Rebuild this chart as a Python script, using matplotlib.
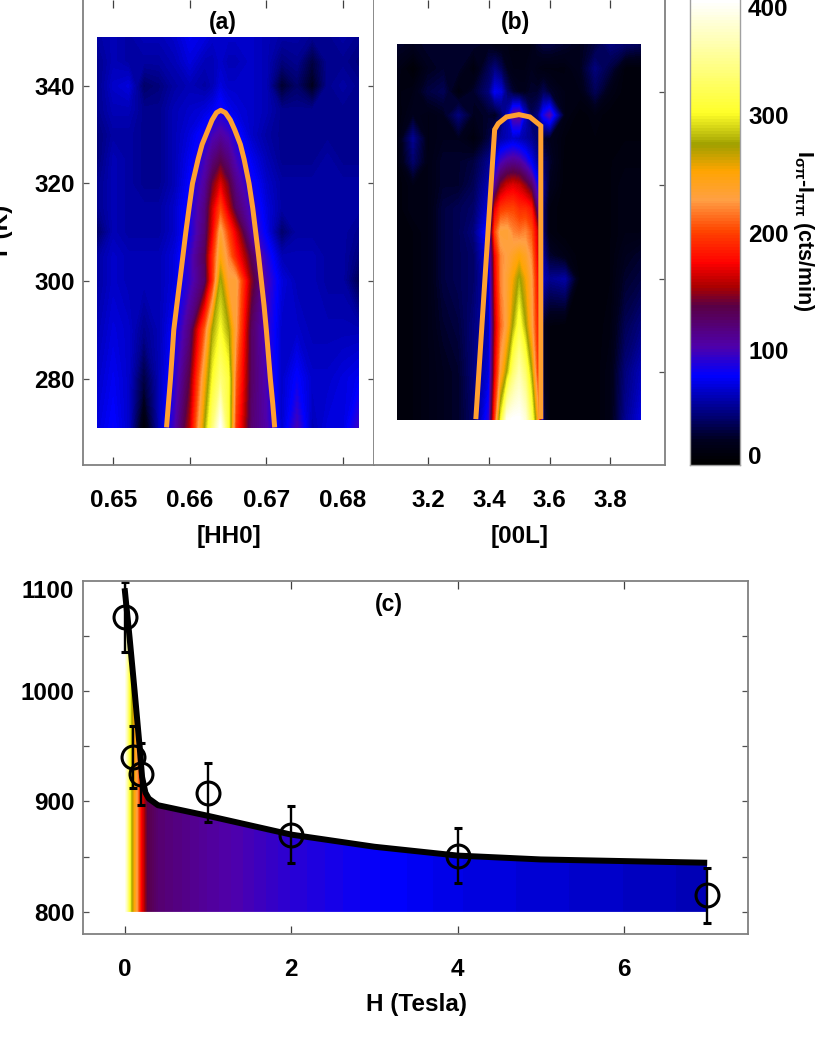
import numpy as np
import matplotlib
matplotlib.use("Agg")
import matplotlib.pyplot as plt
from matplotlib.colors import LinearSegmentedColormap
from matplotlib.patches import Polygon

W, H_PX = 830, 1038

# temperature rows shared by both maps
temps = [270, 280, 290, 300, 305, 310, 315, 320, 325, 330, 335, 340, 345, 350]

hh0 = [.648, .650, .652, .654, .656, .658, .660, .662, .663, .664, .665, .666,
       .668, .670, .672, .674, .676, .678, .680, .682]
map_a = [
    [70, 80, 65, 5, 60, 100, 160, 283, 345, 410, 320, 200, 125, 105, 65, 100, 60, 70, 70, 95],
    [65, 75, 65, 30, 60, 90, 140, 255, 310, 345, 320, 215, 130, 100, 65, 80, 65, 65, 70, 75],
    [60, 70, 65, 50, 60, 80, 120, 215, 283, 310, 285, 235, 130, 95, 65, 65, 60, 60, 60, 60],
    [55, 65, 60, 60, 60, 70, 95, 130, 195, 285, 240, 240, 150, 100, 70, 60, 60, 55, 55, 35],
    [55, 65, 60, 60, 60, 70, 95, 135, 195, 255, 225, 190, 135, 90, 60, 60, 60, 55, 55, 45],
    [40, 60, 55, 55, 55, 65, 85, 125, 175, 240, 205, 170, 105, 75, 40, 55, 55, 55, 55, 50],
    [50, 60, 55, 55, 55, 65, 85, 120, 165, 205, 165, 130, 95, 70, 55, 55, 55, 55, 55, 55],
    [50, 60, 55, 50, 50, 60, 80, 110, 145, 170, 145, 115, 85, 65, 55, 55, 55, 55, 55, 55],
    [45, 60, 55, 50, 50, 60, 75, 100, 120, 135, 120, 100, 75, 60, 50, 50, 50, 55, 50, 50],
    [45, 55, 55, 50, 50, 60, 70, 85, 100, 108, 100, 85, 65, 55, 50, 50, 50, 50, 50, 50],
    [50, 60, 60, 50, 50, 60, 65, 70, 75, 85, 75, 70, 65, 60, 50, 50, 50, 50, 50, 50],
    [50, 65, 70, 40, 45, 55, 60, 55, 60, 70, 65, 65, 65, 60, 25, 40, 20, 50, 55, 50],
    [50, 60, 55, 55, 55, 60, 70, 60, 60, 65, 60, 60, 65, 60, 45, 50, 30, 50, 50, 45],
    [55, 60, 55, 60, 60, 65, 75, 70, 65, 65, 65, 65, 65, 60, 55, 55, 50, 50, 55, 50],
]

l00 = [3.10, 3.15, 3.20, 3.25, 3.30, 3.35, 3.40, 3.42, 3.44, 3.46, 3.48, 3.50,
       3.52, 3.54, 3.56, 3.58, 3.60, 3.65, 3.70, 3.75, 3.80, 3.85, 3.90]
map_b = [
    [10, 10, 15, 20, 25, 40, 90, 200, 310, 400, 410, 410, 390, 330, 250, 30, 10, 8, 8, 8, 15, 50, 70],
    [10, 10, 15, 20, 25, 45, 70, 170, 240, 283, 340, 370, 340, 283, 200, 20, 10, 8, 8, 8, 15, 45, 60],
    [10, 10, 15, 25, 30, 45, 60, 160, 215, 240, 283, 320, 283, 240, 190, 20, 10, 8, 8, 8, 12, 35, 45],
    [8, 10, 15, 30, 35, 40, 65, 170, 225, 240, 260, 285, 260, 235, 180, 60, 50, 55, 8, 8, 10, 25, 30],
    [8, 10, 15, 30, 35, 40, 75, 175, 225, 235, 245, 255, 245, 225, 170, 50, 25, 15, 8, 8, 10, 20, 25],
    [8, 10, 15, 30, 35, 45, 90, 205, 240, 240, 225, 220, 225, 210, 165, 40, 12, 8, 8, 8, 10, 15, 15],
    [8, 15, 15, 30, 35, 40, 70, 170, 200, 205, 205, 195, 195, 185, 120, 40, 12, 8, 8, 8, 10, 15, 15],
    [8, 15, 15, 25, 25, 35, 60, 110, 150, 165, 170, 165, 150, 130, 85, 50, 20, 8, 8, 8, 10, 15, 15],
    [10, 40, 15, 25, 25, 30, 50, 70, 100, 110, 115, 110, 95, 75, 55, 40, 25, 8, 8, 10, 10, 12, 12],
    [10, 50, 15, 20, 20, 10, 30, 50, 55, 60, 65, 60, 55, 50, 40, 25, 20, 10, 8, 10, 10, 10, 10],
    [10, 20, 15, 20, 45, 20, 25, 20, 35, 60, 110, 115, 65, 35, 45, 85, 105, 15, 8, 12, 8, 8, 8],
    [12, 15, 30, 35, 10, 25, 45, 75, 70, 40, 25, 20, 20, 25, 25, 35, 25, 15, 15, 35, 15, 8, 8],
    [15, 5, 20, 25, 25, 10, 35, 45, 35, 20, 15, 15, 15, 20, 15, 12, 12, 12, 20, 45, 30, 8, 8],
    [25, 20, 25, 25, 25, 25, 20, 15, 15, 15, 12, 12, 15, 15, 25, 30, 30, 25, 20, 30, 45, 40, 35],
]

# orange outlines
outline_a_t = [270, 275, 280, 285, 290, 295, 300, 305, 310, 315, 320, 325, 328, 331, 333, 334.5, 335,
               334.5, 333, 331, 328, 325, 320, 315, 310, 305, 300, 295, 290, 285, 280, 275, 270]
outline_a_x = [.65696, .65722, .65748, .65770, .65791, .65830, .65870, .65909, .65948, .65991, .66035,
               .66109, .66161, .66239, .66291, .66348, .66404, .66465, .66530, .66587, .66661, .66709,
               .66774, .66822, .66861, .66900, .66935, .66970, .67000, .67026, .67052, .67083, .67109]
outline_b_t = [270, 331.9, 333.2, 334.6, 335.1, 334.6, 332.7, 270]
outline_b_x = [3.357, 3.419, 3.431, 3.458, 3.499, 3.535, 3.571, 3.571]

# panel c
field_fit = [0, .06, .12, .18, .21, .25, .29, .4, 1, 2, 3, 4, 5, 6, 7]
temp_fit = [1093, 1048, 1000, 950, 922, 908, 902.6, 896.6, 887, 870, 859, 851, 847.5, 846, 844.5]
field_pts = [0, .1, .2, 1, 2, 4, 7]
temp_pts = [1067, 940, 925, 908, 870, 851, 815]
err_pts = [32, 28, 28, 27, 26, 25, 24.6]
field_col = [0, .03, .06, .09, .15, .2, .27, .4, 1, 2, 3, 4, 7]
inten_col = [410, 370, 320, 280, 235, 180, 140, 125, 110, 92, 80, 72, 60]

cbar_ticks = [0, 100, 200, 300, 400]
cbar_tick_y = [457, 352.5, 235, 118, 10]

cmap_stops = [
    (0.0, "#000000"), (0.05, "#00001e"), (0.19, "#0000ff"), (0.254, "#5000aa"),
    (0.34, "#5a0046"), (0.383, "#aa0000"), (0.434, "#ff0000"), (0.505, "#ff4600"),
    (0.57, "#ffa046"), (0.634, "#ffa500"), (0.69, "#a0a000"), (0.757, "#ffff28"),
    (0.856, "#ffff82"), (1.0, "#ffffff"),
]
heat = LinearSegmentedColormap.from_list("heat", cmap_stops, N=160)
levels = np.linspace(0, 410, 161)

plt.rcParams["font.family"] = ["Liberation Sans", "DejaVu Sans"]
plt.rcParams["font.weight"] = "bold"
plt.rcParams["mathtext.fontset"] = "custom"
plt.rcParams["mathtext.rm"] = "Liberation Sans:bold"
plt.rcParams["mathtext.it"] = "Liberation Sans:bold"
plt.rcParams["mathtext.bf"] = "Liberation Sans:bold"
plt.rcParams["mathtext.default"] = "rm"

GRAY = "#808080"
FS = 17.5
ORANGE = "#ffa030"

fig = plt.figure(figsize=(W / 100, H_PX / 100), dpi=100)


def px_axes(left, top, right, bottom):
    return fig.add_axes([left / W, 1 - bottom / H_PX, (right - left) / W, (bottom - top) / H_PX])


def style(ax, pad_x=17, left_labels=True):
    for s in ax.spines.values():
        s.set_color(GRAY)
        s.set_linewidth(1.3)
    ax.tick_params(axis="x", direction="in", length=6, width=0.9, color="#404040",
                   top=True, bottom=True, pad=pad_x, labelsize=FS)
    ax.tick_params(axis="y", direction="in", length=4.5, width=0.9, color="#505050",
                   left=left_labels, right=True, labelleft=left_labels, pad=6, labelsize=FS)


ax_a = px_axes(83, 0, 373.5, 465)
ax_a.contourf(hh0, temps, np.array(map_a), levels=levels, cmap=heat, extend="both", antialiased=False)
ax_a.plot(outline_a_x, outline_a_t, color=ORANGE, lw=3.6, solid_capstyle="butt")
ax_a.set_xlim(.64605, .6840)
ax_a.set_ylim(262.3, 357.6)
ax_a.set_xticks([.65, .66, .67, .68], ["0.65", "0.66", "0.67", "0.68"])
ax_a.set_yticks([280, 300, 320, 340])
style(ax_a)
ax_a.spines["top"].set_visible(False)

ax_b = px_axes(373.5, 0, 665, 465)
ax_b.contourf(l00, temps, np.array(map_b), levels=levels, cmap=heat, extend="both", antialiased=False)
ax_b.plot(outline_b_x, outline_b_t, color=ORANGE, lw=3.6, solid_capstyle="butt", solid_joinstyle="miter")
ax_b.set_xlim(3.020, 3.980)
ax_b.set_ylim(260.2, 359.6)
ax_b.set_xticks([3.2, 3.4, 3.6, 3.8], ["3.2", "3.4", "3.6", "3.8"])
ax_b.set_yticks([280, 300, 320, 340])
style(ax_b, left_labels=False)
ax_b.spines["top"].set_visible(False)
ax_b.spines["left"].set_visible(False)

ax_bar = px_axes(689.5, 0, 740, 465)
ax_bar.imshow(np.linspace(0, 410, 160).reshape(-1, 1), origin="lower", aspect="auto", cmap=heat,
              vmin=0, vmax=410, extent=[0, 1, 0, 410], interpolation="nearest")
ax_bar.set_xticks([])
ax_bar.set_yticks([])
for s in ax_bar.spines.values():
    s.set_color("#a0a0a0")
    s.set_linewidth(1)
ax_bar.spines["top"].set_visible(False)

ax_c = px_axes(83, 580.5, 748, 934)
grad = ax_c.contourf(field_col, [800, 1100], np.array([inten_col, inten_col]), levels=levels,
                     cmap=heat, extend="both", antialiased=False)
clip = Polygon(list(zip(field_fit, temp_fit)) + [(7, 800), (0, 800)], closed=True,
               transform=ax_c.transData, fc="none", ec="none")
ax_c.add_patch(clip)
grad.set_clip_path(clip)
ax_c.plot(field_fit, temp_fit, color="black", lw=4.3, solid_capstyle="butt")
ax_c.errorbar(field_pts, temp_pts, yerr=err_pts, fmt="o", ms=16.5, mfc="none", mec="black",
              mew=2.2, ecolor="black", elinewidth=1.7, capsize=2.6, capthick=2.2, clip_on=False)
ax_c.set_xlim(-.5, 7.49)
ax_c.set_ylim(780, 1100)
ax_c.set_xticks([0, 2, 4, 6])
ax_c.set_yticks([800, 850, 900, 950, 1000, 1050], ["800", "", "900", "", "1000", ""])
style(ax_c)


def px_text(x, y, s, **kw):
    fig.text(x / W, 1 - y / H_PX, s, ha=kw.pop("ha", "center"), va=kw.pop("va", "center"),
             fontsize=kw.pop("fontsize", FS), **kw)


px_text(222.5, 23, "(a)", fontsize=16.5)
px_text(515, 23, "(b)", fontsize=16.5)
px_text(389, 605, "(c)", fontsize=16.5)
px_text(74, 592, "1100", ha="right")
px_text(229, 536, "[HH0]")
px_text(520, 536, "[00L]")
px_text(416, 1004, "H (Tesla)")
px_text(2, 232, "T (K)", rotation=90)
for tick, y in zip(cbar_ticks, cbar_tick_y):
    px_text(748, y, str(tick), ha="left")
px_text(803, 231, r"I$_{\sigma\pi}$-I$_{\pi\pi}$ (cts/min)", rotation=270, fontsize=15.5)

fig.savefig("out.png", dpi=100)
